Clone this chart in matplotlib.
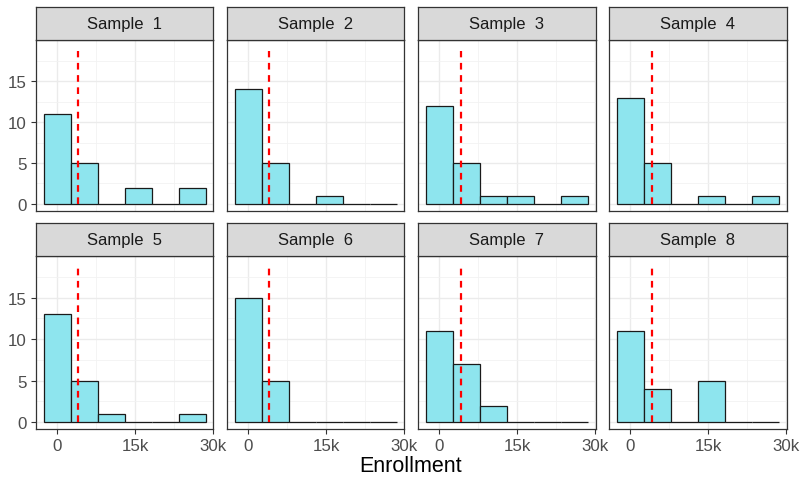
import matplotlib.pyplot as plt
from matplotlib.ticker import FixedLocator

plt.rcParams['font.family'] = ['Liberation Sans', 'DejaVu Sans']

samples = ["Sample  1", "Sample  2", "Sample  3", "Sample  4",
           "Sample  5", "Sample  6", "Sample  7", "Sample  8"]
bin_centers = [0, 5200, 10400, 15600, 20800, 26000]
bin_width = 5200
counts_1 = [11, 5, 0, 2, 0, 2]
counts_2 = [14, 5, 0, 1, 0, 0]
counts_3 = [12, 5, 1, 1, 0, 1]
counts_4 = [13, 5, 0, 1, 0, 1]
counts_5 = [13, 5, 1, 0, 0, 1]
counts_6 = [15, 5, 0, 0, 0, 0]
counts_7 = [11, 7, 2, 0, 0, 0]
counts_8 = [11, 4, 0, 5, 0, 0]
all_counts = [counts_1, counts_2, counts_3, counts_4,
              counts_5, counts_6, counts_7, counts_8]
pop_mean = 4100
seg_top = 18.75
x_ticks = [0, 15000, 30000]
x_labels = ["0", "15k", "30k"]
y_ticks = [0, 5, 10, 15]

W, H = 801, 481
fig = plt.figure(figsize=(W / 100, H / 100), dpi=100)

col_left = [35.7, 226.8, 417.9, 609.0]
col_w = 177.6
rows = [(7.5, 41.3, 211.7), (224.0, 257.3, 430.0)]  # strip top, panel top, panel bottom

def box(x0, y0, x1, y1):
    return [x0 / W, 1 - y1 / H, (x1 - x0) / W, (y1 - y0) / H]

for i, (name, counts) in enumerate(zip(samples, all_counts)):
    r, c = divmod(i, 4)
    st, pt, pb = rows[r]
    x0 = col_left[c]
    ax = fig.add_axes(box(x0, pt, x0 + col_w, pb))
    ax.bar(bin_centers, counts, width=bin_width, color='#8EE5EE',
           edgecolor='#1a1a1a', linewidth=0.9, zorder=3)
    ax.plot([pop_mean, pop_mean], [0, seg_top], color='red', ls=(0, (3, 2.5)),
            lw=1.6, zorder=4)
    ax.set_xlim(-4100, 30050)
    ax.set_ylim(-0.83, 20.0)
    ax.xaxis.set_major_locator(FixedLocator(x_ticks))
    ax.xaxis.set_minor_locator(FixedLocator([7500, 22500]))
    ax.yaxis.set_major_locator(FixedLocator(y_ticks))
    ax.yaxis.set_minor_locator(FixedLocator([2.5, 7.5, 12.5, 17.5]))
    ax.grid(which='major', color='#EBEBEB', lw=1.0, zorder=0)
    ax.grid(which='minor', color='#F2F2F2', lw=0.6, zorder=0)
    ax.tick_params(which='minor', length=0)
    ax.tick_params(which='major', length=3.8, color='#333333', width=0.8,
                   labelsize=12.2, labelcolor='#4D4D4D', pad=2.5)
    if r == 1:
        ax.set_xticklabels(x_labels)
    else:
        ax.tick_params(axis='x', length=0, labelbottom=False)
    if c == 0:
        ax.set_yticklabels([str(v) for v in y_ticks])
    else:
        ax.tick_params(axis='y', length=0, labelleft=False)
    for s in ax.spines.values():
        s.set_color('#333333')
        s.set_linewidth(0.9)

    sax = fig.add_axes(box(x0, st, x0 + col_w, pt))
    sax.set_facecolor('#D9D9D9')
    sax.set_xticks([])
    sax.set_yticks([])
    for s in sax.spines.values():
        s.set_color('#333333')
        s.set_linewidth(0.9)
    sax.text(0.5, 0.5, name, ha='center', va='center', fontsize=12,
             color='#1A1A1A', transform=sax.transAxes)

fig.text(411 / W, 1 - 467 / H, "Enrollment", ha='center', va='center',
         fontsize=15.5, color='black')

fig.savefig("out.png", dpi=100)
